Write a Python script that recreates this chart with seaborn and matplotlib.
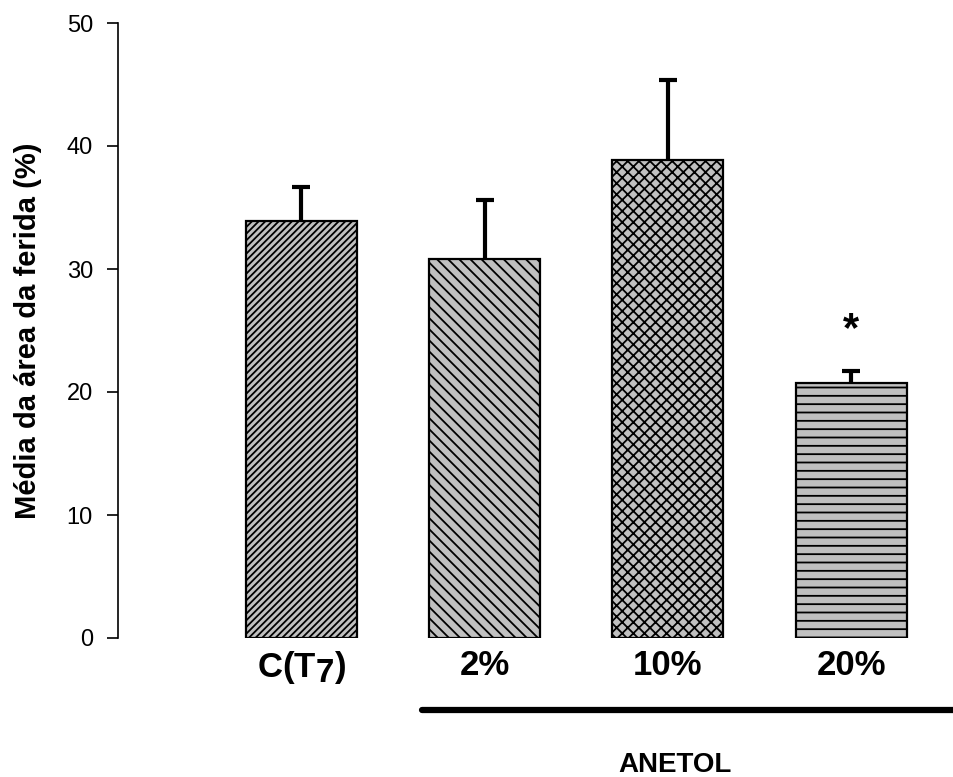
import matplotlib
matplotlib.use("Agg")
import matplotlib.pyplot as plt
import matplotlib._mathtext as _mt
import seaborn as sns
import pandas as pd
from matplotlib.lines import Line2D

# subscript "7" in the reference is nearly full size
_mt.SHRINK_FACTOR = 0.95

groups = ["C", "2%", "10%", "20%"]
tick_labels = [r"$\mathbf{C(T_7)}$", "2%", "10%", "20%"]
means = [33.9, 30.8, 38.9, 20.7]
sem = [2.8, 4.8, 6.5, 1.0]
hatches = ["/////", "\\\\\\", "xxx", "--"]
yticks = [0, 10, 20, 30, 40, 50]

sns.set_theme(style="white")
plt.rcParams["font.family"] = ["Liberation Sans", "DejaVu Sans"]
plt.rcParams["text.color"] = "black"
plt.rcParams["axes.labelcolor"] = "black"
plt.rcParams["xtick.color"] = "black"
plt.rcParams["ytick.color"] = "black"
plt.rcParams["mathtext.fontset"] = "custom"
plt.rcParams["mathtext.bf"] = "Liberation Sans:bold"
plt.rcParams["mathtext.rm"] = "Liberation Sans"
plt.rcParams["hatch.linewidth"] = 1.3
plt.rcParams["hatch.color"] = "black"

df = pd.DataFrame({"group": groups, "mean": means})

fig = plt.figure(figsize=(9.54, 7.77), dpi=100)
ax = fig.add_axes([118 / 954, 1 - 638 / 777, (940 - 118) / 954, (638 - 23) / 777])

sns.barplot(data=df, x="group", y="mean", order=groups, color="#c0c0c0",
            width=0.605, errorbar=None, edgecolor="black", linewidth=1.6,
            saturation=1, ax=ax)
for patch, h in zip(ax.patches, hatches):
    patch.set_hatch(h)
    patch.set_edgecolor("black")

eb = ax.errorbar(range(len(groups)), means, yerr=[[0] * len(sem), sem], fmt="none",
                 ecolor="black", elinewidth=3, capsize=6.5, capthick=3, zorder=1)
eb[1][0].set_visible(False)

ax.set_xlim(-1.0, 3.485)
ax.set_ylim(0, 50)
ax.set_yticks(yticks)
ax.set_yticklabels([str(t) for t in yticks], fontsize=17)
ax.tick_params(axis="y", direction="out", length=8, width=1.2, pad=10, left=True)
ax.set_xticks(range(len(groups)))
ax.set_xticklabels(tick_labels, fontsize=25, fontweight="bold")
ax.tick_params(axis="x", length=0, pad=8)
ax.set_xlabel("")
ax.set_ylabel("Média da área da ferida (%)", fontsize=21, fontweight="bold", labelpad=18)

for s in ["top", "right", "bottom"]:
    ax.spines[s].set_visible(False)
ax.spines["left"].set_color("black")
ax.spines["left"].set_linewidth(1.2)

ax.text(3, means[3] + sem[3] + 3.35, "*", ha="center", va="center",
        fontsize=30, fontweight="bold")

fig.add_artist(Line2D([422 / 954, 1.0], [1 - 710 / 777] * 2, color="black", lw=4.5,
                      solid_capstyle="round"))
fig.text(675 / 954, 1 - 772 / 777, "ANETOL", ha="center", va="baseline", fontsize=20,
         fontweight="bold")

fig.savefig("out.png", dpi=100)
